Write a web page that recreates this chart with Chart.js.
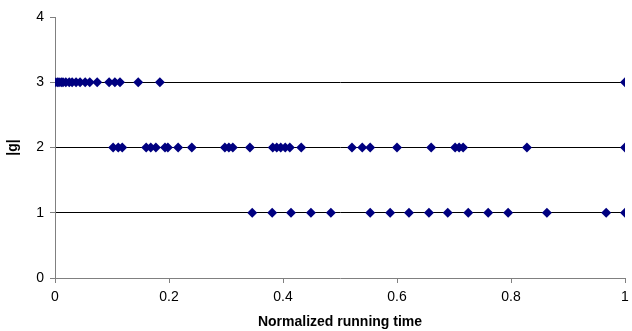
<!DOCTYPE html>
<html>
<head>
<meta charset="utf-8">
<script src="https://cdn.jsdelivr.net/npm/chart.js@4"></script>
<style>
  html, body { margin: 0; padding: 0; background: #fff; }
  #wrap { width: 632px; height: 331px; }
</style>
</head>
<body>
<div id="wrap"><canvas id="c" width="632" height="331"></canvas></div>
<script>
// Normalized running time of each sample, grouped by |g| level
const level3 = 3;
const time3 = [0, 0.004, 0.007, 0.011, 0.014, 0.019, 0.025, 0.030, 0.037, 0.044, 0.053, 0.061, 0.074, 0.095, 0.105, 0.114, 0.146, 0.184, 1.0];
const level2 = 2;
const time2 = [0.102, 0.111, 0.118, 0.160, 0.168, 0.177, 0.193, 0.198, 0.216, 0.240, 0.298, 0.305, 0.312, 0.342, 0.382, 0.389, 0.396, 0.404, 0.412, 0.432, 0.521, 0.539, 0.553, 0.600, 0.660, 0.702, 0.709, 0.716, 0.828, 1.0];
const level1 = 1;
const time1 = [0.346, 0.381, 0.414, 0.449, 0.484, 0.553, 0.588, 0.621, 0.656, 0.689, 0.725, 0.760, 0.795, 0.863, 0.967, 1.0];
const xTicks = [0, 0.2, 0.4, 0.6, 0.8, 1];
const yTicks = [0, 1, 2, 3, 4];

const toPts = (xs, lvl) => xs.map(v => ({ x: v, y: lvl }));
const navy = '#000080';
const ds = (xs, lvl) => ({
  data: toPts(xs, lvl),
  showLine: false,
  pointStyle: 'rectRot',
  pointRadius: 5,
  pointHoverRadius: 5,
  pointBackgroundColor: navy,
  pointBorderColor: navy,
  pointBorderWidth: 0
});
const FONT = 'Liberation Sans, Arial';

new Chart(document.getElementById('c'), {
  type: 'scatter',
  data: { datasets: [ds(time3, level3), ds(time2, level2), ds(time1, level1)] },
  options: {
    responsive: false,
    animation: false,
    events: [],
    layout: { padding: { left: 0, right: 7, top: 17, bottom: 0 } },
    plugins: { legend: { display: false }, tooltip: { enabled: false } },
    scales: {
      x: {
        type: 'linear',
        min: 0, max: 1,
        afterBuildTicks: s => { s.ticks = xTicks.map(v => ({ value: v })); },
        afterFit: s => { s.height = 53; s.paddingLeft = 0; s.paddingRight = 0; },
        border: { color: '#808080', width: 1 },
        grid: { drawOnChartArea: false, tickColor: '#808080', tickLength: 5 },
        ticks: { color: '#000', padding: 6, font: { family: FONT, size: 14 }, maxRotation: 0,
                 callback: v => String(v) },
        title: { display: true, text: 'Normalized running time', color: '#000',
                 font: { family: FONT, size: 14, weight: 'bold' }, padding: { top: 0, bottom: 0 } }
      },
      y: {
        type: 'linear',
        min: 0, max: 4,
        afterBuildTicks: s => { s.ticks = yTicks.map(v => ({ value: v })); },
        afterFit: s => { s.width = 55; s.paddingTop = 0; s.paddingBottom = 0; },
        border: { color: '#808080', width: 1 },
        grid: {
          color: c => (c.tick && c.tick.value > 0 && c.tick.value < 4) ? '#000' : 'rgba(0,0,0,0)',
          tickColor: '#808080', tickLength: 5, lineWidth: 1
        },
        ticks: { color: '#000', padding: 6, font: { family: FONT, size: 14 } },
        title: { display: true, text: '|g|', color: '#000',
                 font: { family: FONT, size: 14, weight: 'bold' }, padding: { top: 5, bottom: 0 } }
      }
    }
  }
});
</script>
</body>
</html>
